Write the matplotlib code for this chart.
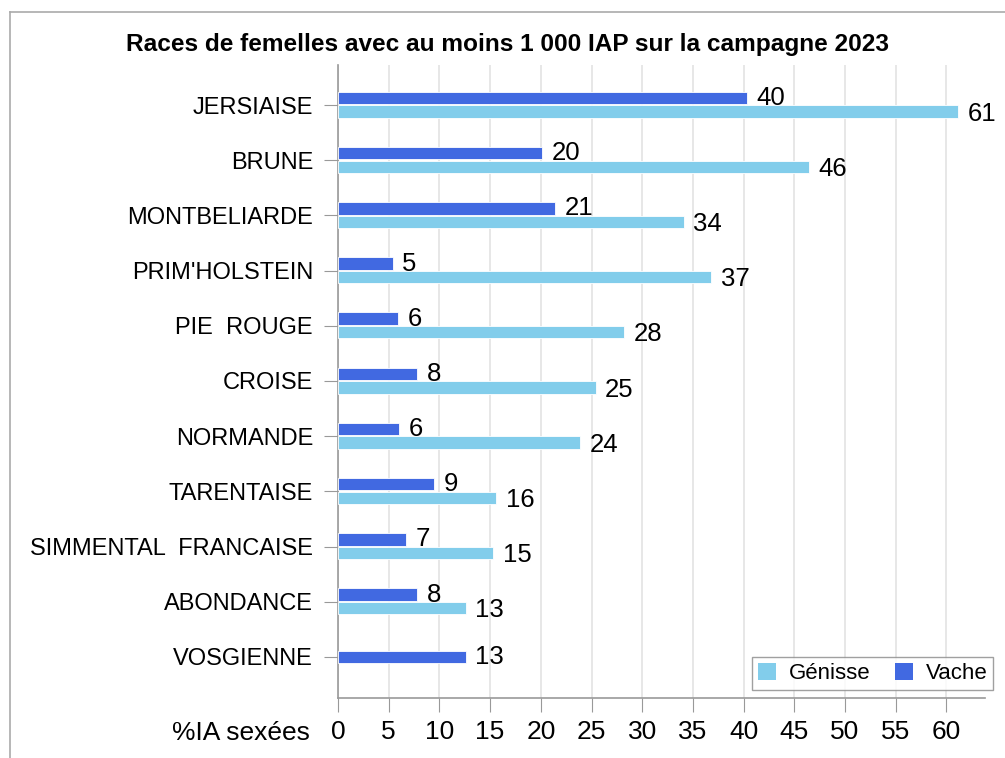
import matplotlib
matplotlib.use("Agg")
import matplotlib.pyplot as plt
from matplotlib.lines import Line2D
from matplotlib.patches import Patch

plt.rcParams['font.family'] = ['Liberation Sans', 'DejaVu Sans']

races = ["JERSIAISE", "BRUNE", "MONTBELIARDE", "PRIM'HOLSTEIN", "PIE  ROUGE",
         "CROISE", "NORMANDE", "TARENTAISE", "SIMMENTAL  FRANCAISE", "ABONDANCE",
         "VOSGIENNE"]
vache = [40.3, 20.1, 21.4, 5.4, 5.9, 7.8, 6.0, 9.5, 6.7, 7.8, 12.6]
genisse = [61.1, 46.4, 34.1, 36.8, 28.2, 25.4, 23.9, 15.6, 15.3, 12.6, None]
vache_labels = ["40", "20", "21", "5", "6", "8", "6", "9", "7", "8", "13"]
genisse_labels = ["61", "46", "34", "37", "28", "25", "24", "16", "15", "13", ""]
xticks = list(range(0, 61, 5))

c_vache = "#4169E1"
c_gen = "#82CDEB"

fig = plt.figure(figsize=(10.05, 7.58), dpi=100)
ax = fig.add_axes([338/1005, 1-698/758, (985-338)/1005, (698-65)/758])

h = 0.225
for i, (v, g) in enumerate(zip(vache, genisse)):
    if g is None:
        yv = i
    else:
        yv = i - 0.128
        yg = i + 0.118
        ax.barh(yg, g, height=h, color=c_gen, edgecolor="white", linewidth=0.6, zorder=3)
        ax.text(g + 0.95, yg + 0.04, genisse_labels[i], va="center", ha="left", fontsize=18.5, zorder=4)
    ax.barh(yv, v, height=h, color=c_vache, edgecolor="white", linewidth=0.6, zorder=3)
    ax.text(v + 0.95, yv, vache_labels[i], va="center", ha="left", fontsize=18.5, zorder=4)

ax.set_ylim(len(races) - 1 + 0.745, -0.725)
ax.set_xlim(0, 63.8)
ax.set_yticks(range(len(races)))
ax.set_yticklabels(races, fontsize=17)
ax.set_xticks(xticks)
ax.set_xticklabels([str(t) for t in xticks], fontsize=19)
ax.tick_params(axis="y", length=10, color="#999999", pad=8)
ax.tick_params(axis="x", length=10, color="#999999", pad=6)
ax.grid(axis="x", color="#e3e3e3", linewidth=1.2, zorder=0)
for s in ["top", "right"]:
    ax.spines[s].set_visible(False)
for s in ["left", "bottom"]:
    ax.spines[s].set_color("#999999")
    ax.spines[s].set_linewidth(1.2)

fig.text(310/1005, 1-733/758, "%IA sexées", ha="right", va="center", fontsize=19)
fig.text(507/1005, 1-45/758, "Races de femelles avec au moins 1 000 IAP sur la campagne 2023",
         ha="center", va="center", fontsize=17.6, fontweight="bold")

# outer frame
fig.add_artist(Line2D([10/1005, 10/1005], [0, 1-12/758], transform=fig.transFigure,
                      color="#aaaaaa", linewidth=1.2))
fig.add_artist(Line2D([10/1005, 1], [1-12/758, 1-12/758], transform=fig.transFigure,
                      color="#aaaaaa", linewidth=1.2))

handles = [Patch(facecolor=c_gen, label="Génisse"), Patch(facecolor=c_vache, label="Vache")]
leg = ax.legend(handles=handles, ncol=2, loc="lower right", bbox_to_anchor=(1.013, 0.013),
                fontsize=16, frameon=True, fancybox=False, handlelength=0.8, handleheight=0.8,
                handletextpad=0.6, columnspacing=1.1, borderpad=0.25, borderaxespad=0)
leg.get_frame().set_edgecolor("#888888")
leg.get_frame().set_linewidth(1.0)

fig.savefig("out.png", dpi=100)
